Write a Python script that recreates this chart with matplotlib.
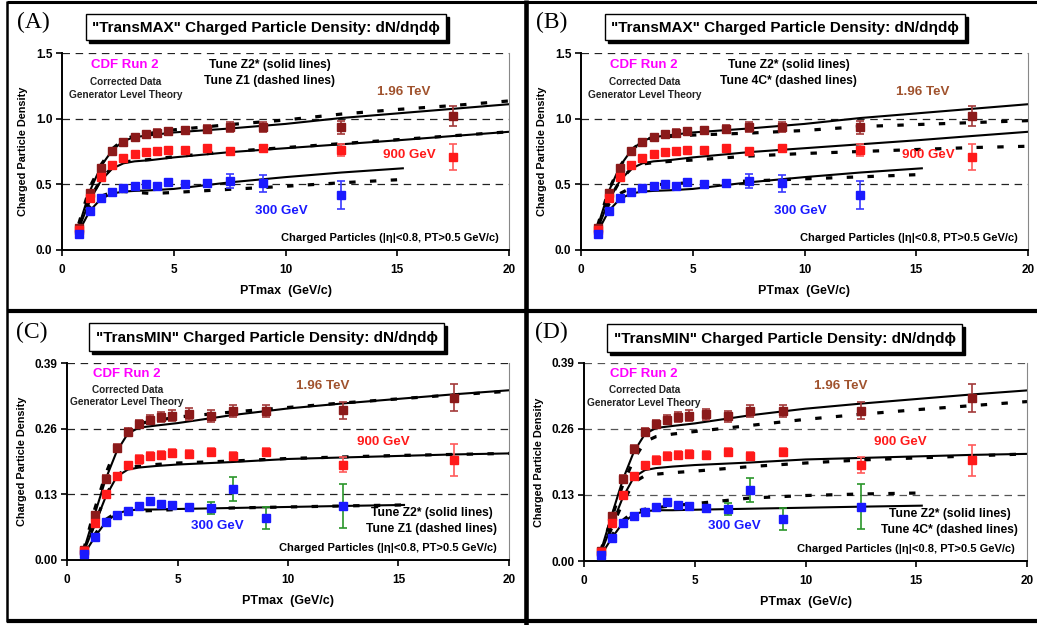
import matplotlib.pyplot as plt
from matplotlib.patches import Rectangle

plt.rcParams['font.family'] = ['Liberation Sans', 'DejaVu Sans']

# CDF data, PTmax bin centres (GeV/c)
pt = [0.75, 1.25, 1.75, 2.25, 2.75, 3.25, 3.75, 4.25, 4.75, 5.5, 6.5, 7.5, 9.0, 12.5, 17.5]
pt300 = pt[:14]

# "TransMAX" data
max_1960 = [0.17, 0.435, 0.625, 0.755, 0.825, 0.862, 0.88, 0.893, 0.903, 0.913, 0.922, 0.935, 0.935, 0.933, 1.02]
max_1960_err = [0, 0, 0, 0.01, 0.015, 0.015, 0.02, 0.025, 0.025, 0.025, 0.03, 0.038, 0.04, 0.048, 0.075]
max_900 = [0.152, 0.398, 0.557, 0.646, 0.697, 0.732, 0.745, 0.755, 0.76, 0.763, 0.78, 0.752, 0.775, 0.76, 0.709]
max_900_err = [0, 0, 0, 0, 0, 0, 0, 0, 0, 0, 0.01, 0.02, 0.02, 0.045, 0.1]
max_300 = [0.119, 0.299, 0.395, 0.443, 0.474, 0.49, 0.504, 0.49, 0.517, 0.504, 0.507, 0.524, 0.507, 0.42]
max_300_err = [0, 0, 0, 0, 0, 0, 0, 0, 0, 0, 0.02, 0.055, 0.065, 0.105]

# "TransMIN" data
min_1960 = [0.02, 0.089, 0.161, 0.221, 0.254, 0.270, 0.278, 0.283, 0.286, 0.289, 0.285, 0.295, 0.295, 0.296, 0.321]
min_1960_err = [0, 0, 0.008, 0.008, 0.008, 0.008, 0.009, 0.01, 0.011, 0.011, 0.011, 0.012, 0.012, 0.017, 0.027]
min_900 = [0.018, 0.074, 0.130, 0.167, 0.189, 0.199, 0.206, 0.208, 0.211, 0.209, 0.214, 0.206, 0.214, 0.189, 0.198]
min_900_err = [0, 0, 0, 0, 0.006, 0.008, 0.008, 0.008, 0.008, 0.008, 0.008, 0.008, 0.008, 0.015, 0.031]
min_300 = [0.011, 0.046, 0.075, 0.089, 0.097, 0.107, 0.117, 0.110, 0.108, 0.105, 0.103, 0.140, 0.083, 0.107]
min_300_err = [0, 0, 0, 0.003, 0, 0, 0, 0, 0.006, 0.003, 0.012, 0.024, 0.022, 0.044]

# generator level theory curves
th_pt = [0.75, 1.25, 1.75, 2.25, 2.75, 3.25, 4, 5, 7.5, 10, 12.5, 15, 17.5, 20]
th_pt300 = [0.75, 1.25, 1.75, 2.25, 2.75, 3.25, 4, 5, 7.5, 10, 12.5, 15.25]

max_z2_1960 = [0.18, 0.45, 0.64, 0.76, 0.83, 0.86, 0.875, 0.895, 0.925, 0.96, 1.005, 1.04, 1.075, 1.11]
max_z1_1960 = [0.2, 0.48, 0.65, 0.77, 0.84, 0.87, 0.89, 0.915, 0.955, 0.99, 1.035, 1.07, 1.1, 1.135]
max_4c_1960 = [0.19, 0.46, 0.64, 0.76, 0.83, 0.86, 0.865, 0.875, 0.89, 0.91, 0.94, 0.955, 0.97, 0.985]
max_z2_900 = [0.16, 0.38, 0.53, 0.62, 0.66, 0.675, 0.685, 0.705, 0.745, 0.775, 0.805, 0.835, 0.868, 0.9]
max_z1_900 = [0.17, 0.39, 0.54, 0.63, 0.67, 0.68, 0.69, 0.71, 0.75, 0.78, 0.81, 0.84, 0.87, 0.9]
max_4c_900 = [0.17, 0.38, 0.53, 0.62, 0.655, 0.665, 0.675, 0.685, 0.715, 0.735, 0.75, 0.765, 0.78, 0.79]
max_z2_300 = [0.14, 0.3, 0.39, 0.43, 0.445, 0.45, 0.455, 0.465, 0.515, 0.555, 0.59, 0.622]
max_z1_300 = [0.15, 0.33, 0.41, 0.44, 0.445, 0.44, 0.43, 0.438, 0.462, 0.485, 0.512, 0.537]
max_4c_300 = [0.17, 0.35, 0.43, 0.475, 0.49, 0.495, 0.505, 0.512, 0.525, 0.542, 0.557, 0.575]

min_z2_1960 = [0.018, 0.09, 0.16, 0.215, 0.25, 0.262, 0.266, 0.271, 0.287, 0.3, 0.31, 0.319, 0.328, 0.336]
min_z1_1960 = [0.02, 0.1, 0.17, 0.225, 0.258, 0.27, 0.276, 0.283, 0.293, 0.302, 0.311, 0.319, 0.327, 0.334]
min_4c_1960 = [0.02, 0.085, 0.15, 0.2, 0.235, 0.245, 0.25, 0.255, 0.267, 0.279, 0.289, 0.298, 0.306, 0.314]
min_z2_900 = [0.015, 0.07, 0.125, 0.165, 0.179, 0.183, 0.186, 0.189, 0.194, 0.2, 0.203, 0.206, 0.209, 0.211]
min_z1_900 = [0.016, 0.072, 0.127, 0.167, 0.182, 0.186, 0.189, 0.192, 0.196, 0.201, 0.204, 0.207, 0.209, 0.211]
min_4c_900 = [0.015, 0.065, 0.115, 0.155, 0.168, 0.171, 0.174, 0.177, 0.186, 0.193, 0.199, 0.203, 0.207, 0.211]
min_z2_300 = [0.01, 0.045, 0.075, 0.092, 0.098, 0.1, 0.1, 0.101, 0.103, 0.105, 0.107, 0.109]
min_z1_300 = [0.012, 0.05, 0.08, 0.094, 0.098, 0.097, 0.098, 0.1, 0.103, 0.105, 0.107, 0.109]
min_4c_300 = [0.01, 0.05, 0.08, 0.097, 0.102, 0.105, 0.109, 0.113, 0.124, 0.129, 0.132, 0.134]

max_ticks = [0.0, 0.5, 1.0, 1.5]
min_ticks = [0.0, 0.13, 0.26, 0.39]

BROWN, BROWN_E, BROWN_T = '#8b1a1a', '#a33a3a', '#a0522d'
RED, RED_E = '#ff1a1a', '#ff5a5a'
BLUE, BLUE_E, GREEN_E = '#1a1aff', '#3a3aff', '#2a962a'

W, H = 1037, 625
fig = plt.figure(figsize=(W / 100, H / 100), dpi=100)

# background axes in pixel coordinates for frames and title boxes
bg = fig.add_axes([0, 0, 1, 1])
bg.set_xlim(0, W)
bg.set_ylim(H, 0)
bg.axis('off')
for xs, ys, lw in [([7, 7], [1, 622], 1.8), ([7, W], [2, 2], 2.2), ([526, 526], [0, H], 3.3),
                   ([7, W], [311, 311], 3.0), ([7, W], [621, 621], 3.0)]:
    bg.plot(xs, ys, color='k', lw=lw, solid_capstyle='butt')


def title_box(l, t, r, b, text):
    bg.add_patch(Rectangle((l + 3, t + 3), r - l, b - t, fc='k', ec='k', lw=1))
    bg.add_patch(Rectangle((l, t), r - l, b - t, fc='w', ec='k', lw=1))
    bg.text((l + r) / 2, (t + b) / 2 + 1, text, ha='center', va='center',
            fontsize=11, fontweight='bold')


def px_axes(l, t, r, b):
    return fig.add_axes([l / W, 1 - b / H, (r - l) / W, (b - t) / H])


def setup(ax, ticks, fmt, ylab_x, grid_col):
    ymax = ticks[-1]
    ax.set_xlim(0, 20)
    ax.set_ylim(0, ymax)
    ax.set_xticks([0, 5, 10, 15, 20])
    ax.set_yticks(ticks)
    ax.set_yticklabels([fmt % v for v in ticks])
    for v in ticks[1:]:
        ax.axhline(v, color=grid_col, lw=0.9, ls=(0, (6, 4.5)), zorder=1)
    ax.spines['top'].set_visible(False)
    ax.spines['right'].set_color('#888888')
    ax.spines['right'].set_linewidth(0.8)
    ax.spines['left'].set_linewidth(1.4)
    ax.spines['bottom'].set_linewidth(1.4)
    ax.tick_params(axis='both', direction='out', length=4, width=1.2, labelsize=8.5)
    ax.tick_params(axis='x', pad=6)
    ax.tick_params(axis='y', pad=3)
    for lab in ax.get_xticklabels() + ax.get_yticklabels():
        lab.set_fontweight('bold')
    ax.set_xlabel('PTmax  (GeV/c)', fontsize=9, fontweight='bold', va='center')
    ax.xaxis.set_label_coords(0.5, -0.208)
    ax.set_ylabel('Charged Particle Density', fontsize=7.8, fontweight='bold', va='center')
    ax.yaxis.set_label_coords(ylab_x, 0.5)


def draw(ax, data, solid, dashed, blue_ecol):
    d1960, e1960, d900, e900, d300, e300 = data
    for ys, col in zip(solid, ['k'] * 3):
        pass
    xs_list = [th_pt, th_pt, th_pt300]
    for xs, ys in zip(xs_list, solid):
        ax.plot(xs, ys, color='k', lw=1.5, zorder=2)
    for xs, ys in zip(xs_list, dashed):
        ax.plot(xs, ys, color='k', lw=2.3, dashes=(2, 4.5), zorder=2)
    kw = dict(fmt='s', ms=5.2, elinewidth=1.2, capsize=3, capthick=1.2, zorder=3)
    ax.errorbar(pt, d1960, yerr=e1960, color=BROWN, ecolor=BROWN_E, **kw)
    ax.errorbar(pt, d900, yerr=e900, color=RED, ecolor=RED_E, **kw)
    ax.errorbar(pt300, d300, yerr=e300, color=BLUE, ecolor=blue_ecol, **kw)


max_data = (max_1960, max_1960_err, max_900, max_900_err, max_300, max_300_err)
min_data = (min_1960, min_1960_err, min_900, min_900_err, min_300, min_300_err)

# (A) TransMAX, Z2* vs Z1
axA = px_axes(62, 53, 509, 250)
setup(axA, max_ticks, '%.1f', -0.087, '#222222')
draw(axA, max_data, [max_z2_1960, max_z2_900, max_z2_300], [max_z1_1960, max_z1_900, max_z1_300], BLUE_E)
# (B) TransMAX, Z2* vs 4C*
axB = px_axes(581, 53, 1028, 250)
setup(axB, max_ticks, '%.1f', -0.087, '#222222')
draw(axB, max_data, [max_z2_1960, max_z2_900, max_z2_300], [max_4c_1960, max_4c_900, max_4c_300], BLUE_E)
# (C) TransMIN, Z2* vs Z1
axC = px_axes(67, 363, 509, 560)
setup(axC, min_ticks, '%.2f', -0.102, '#222222')
draw(axC, min_data, [min_z2_1960, min_z2_900, min_z2_300], [min_z1_1960, min_z1_900, min_z1_300], GREEN_E)
# (D) TransMIN, Z2* vs 4C*
axD = px_axes(584, 363, 1027, 561)
setup(axD, min_ticks, '%.2f', -0.102, '#555555')
draw(axD, min_data, [min_z2_1960, min_z2_900, min_z2_300], [min_4c_1960, min_4c_900, min_4c_300], GREEN_E)

bold = dict(fontweight='bold')
for ax, tune2, y0 in [(axA, 'Tune Z1 (dashed lines)', 1.5), (axB, 'Tune 4C* (dashed lines)', 1.5)]:
    ax.text(2.82, 1.406, 'CDF Run 2', color='#ff00ff', fontsize=9.5, ha='center', va='center', **bold)
    ax.text(2.86, 1.28, 'Corrected Data', color='#222222', fontsize=7.2, ha='center', va='center', **bold)
    ax.text(2.85, 1.18, 'Generator Level Theory', color='#222222', fontsize=7.3, ha='center', va='center', **bold)
    ax.text(9.3, 1.406, 'Tune Z2* (solid lines)', fontsize=8.7, ha='center', va='center', **bold)
    ax.text(9.3, 1.285, tune2, fontsize=8.7, ha='center', va='center', **bold)
    ax.text(15.28, 1.2, '1.96 TeV', color=BROWN_T, fontsize=9.6, ha='center', va='center', **bold)
    ax.text(15.53, 0.727, '900 GeV', color=RED, fontsize=9.6, ha='center', va='center', **bold)
    ax.text(9.8, 0.296, '300 GeV', color=BLUE, fontsize=9.6, ha='center', va='center', **bold)
    ax.text(19.55, 0.091, 'Charged Particles (|η|<0.8, PT>0.5 GeV/c)', fontsize=8, ha='right', va='center', **bold)

for ax, tune2, r2 in [(axC, 'Tune Z1 (dashed lines)', 19.46), (axD, 'Tune 4C* (dashed lines)', 19.6)]:
    ax.text(2.7, 0.369, 'CDF Run 2', color='#ff00ff', fontsize=9.5, ha='center', va='center', **bold)
    ax.text(2.74, 0.337, 'Corrected Data', color='#222222', fontsize=7.2, ha='center', va='center', **bold)
    ax.text(2.7, 0.312, 'Generator Level Theory', color='#222222', fontsize=7.3, ha='center', va='center', **bold)
    ax.text(11.57, 0.344, '1.96 TeV', color=BROWN_T, fontsize=9.6, ha='center', va='center', **bold)
    ax.text(14.3, 0.234, '900 GeV', color=RED, fontsize=9.6, ha='center', va='center', **bold)
    ax.text(6.8, 0.068, '300 GeV', color=BLUE, fontsize=9.6, ha='center', va='center', **bold)
    ax.text(19.25, 0.0935, 'Tune Z2* (solid lines)', fontsize=8.7, ha='right', va='center', **bold)
    ax.text(r2, 0.061, tune2, fontsize=8.7, ha='right', va='center', **bold)
    ax.text(19.43, 0.0237, 'Charged Particles (|η|<0.8, PT>0.5 GeV/c)', fontsize=8, ha='right', va='center', **bold)

title_box(86, 14, 446, 40, '"TransMAX" Charged Particle Density: dN/dηdϕ')
title_box(605, 14, 965, 40, '"TransMAX" Charged Particle Density: dN/dηdϕ')
title_box(89, 323, 444, 351, '"TransMIN" Charged Particle Density: dN/dηdϕ')
title_box(607, 324, 962, 352, '"TransMIN" Charged Particle Density: dN/dηdϕ')
for x, y, lab in [(17, 22, '(A)'), (536, 22, '(B)'), (16, 332, '(C)'), (535, 332, '(D)')]:
    bg.text(x, y, lab, fontsize=17, family='Liberation Serif', ha='left', va='center')

fig.savefig('out.png', dpi=100)
